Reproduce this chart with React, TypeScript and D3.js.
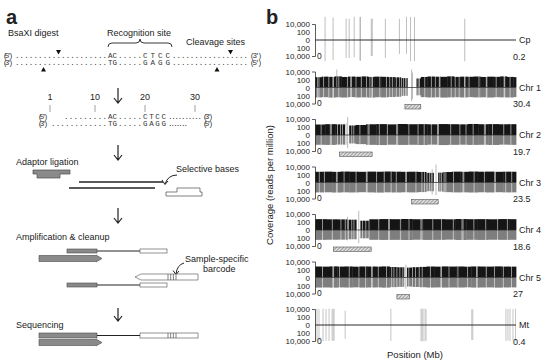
import React, { useEffect, useRef } from 'react';
import * as d3 from 'd3';

const FONT = 'Liberation Sans, Arial, Helvetica, sans-serif';
const MONO = 'Liberation Mono, Courier New, monospace';

// ---- panel b data ----
const trackNames = ['Cp', 'Chr 1', 'Chr 2', 'Chr 3', 'Chr 4', 'Chr 5', 'Mt'];
const trackLengths = [0.2, 30.4, 19.7, 23.5, 18.6, 27, 0.4];
const lengthLabels = ['0.2', '30.4', '19.7', '23.5', '18.6', '27', '0.4'];
const axisTicks = [10000, 100, 0, -100, -10000];
const binSize = 1; // Mb

const cpPeakPos = [0.010, 0.018, 0.031, 0.034, 0.039, 0.0448, 0.0452, 0.056, 0.057, 0.070, 0.084, 0.091, 0.095, 0.099, 0.149];
const cpPeakFwd = [600000, 400000, 200000, 200000, 600000, 600000, 600000, 200000, 200000, 200000, 200000, 600000, 600000, 600000, 200000];
const cpPeakRev = [200000, 100000, 30000, 30000, 20000, 150000, 150000, 10000, 10000, 30000, 3000, 3000, 200000, 200000, 200000];

const mtPeakPos = [0.004, 0.008, 0.016, 0.022, 0.028, 0.034, 0.036, 0.038, 0.060, 0.151, 0.211, 0.213, 0.215, 0.219, 0.221, 0.312, 0.314, 0.380, 0.384, 0.388, 0.394, 0.399];
const mtPeakFwd = [12000, 9000, 12000, 10000, 12000, 9000, 12000, 10000, 4000, 12000, 12000, 10000, 12000, 12000, 9000, 8000, 9000, 12000, 10000, 12000, 9000, 12000];
const mtPeakRev = [10000, 8000, 10000, 9000, 10000, 8000, 10000, 9000, 3000, 10000, 12000, 10000, 12000, 12000, 8000, 5000, 6000, 9000, 8000, 10000, 8000, 9000];

const chr1Fwd = [380, 520, 460, 610, 430, 540, 480, 590, 450, 520, 470, 410, 350, 220, 60, 180, 430, 560, 500, 470, 620, 450, 520, 480, 560, 430, 510, 470, 590, 440, 390];
const chr1Rev = [300, 260, 340, 280, 320, 250, 310, 290, 330, 270, 300, 240, 210, 120, 40, 90, 260, 310, 280, 330, 290, 270, 310, 260, 300, 280, 320, 270, 290, 310, 250];
const chr1Gaps = [0.4, 0.6, 1.3, 2.1, 2.7, 2.8, 3.6, 4.9, 5.4, 5.5, 6.2, 7.0, 7.8, 8.3, 8.6, 8.7, 9.8, 10.8, 11.3, 11.7, 12.3, 12.8, 13.1, 13.4, 13.7, 13.9, 15.6, 15.8, 16.6, 17.6, 18.2, 18.8, 18.9, 20.6, 21.2, 21.8, 22.6, 22.7, 23.3, 24.8, 25.9, 26.0, 27.4, 28.6, 28.7, 29.5];
const chr1CenGap = [14.05, 15.35];
const chr1Cen = [13.6, 16.0];
const chr1SpikePos = [3.3, 14.6, 14.75];
const chr1SpikeFwd = [30000, 30000, 5000];
const chr1SpikeRev = [0, 3000, 800];

const chr2Fwd = [420, 510, 460, 240, 320, 480, 530, 450, 560, 490, 520, 470, 540, 500, 460, 570, 490, 530, 480, 510];
const chr2Rev = [280, 300, 250, 130, 190, 290, 320, 270, 300, 280, 310, 260, 330, 290, 270, 300, 280, 310, 260, 290];
const chr2Gaps = [0.6, 1.5, 1.6, 2.2, 2.5, 2.7, 3.6, 3.8, 4.4, 5.2, 5.3, 6.3, 7.1, 8.0, 8.1, 9.2, 10.1, 10.7, 11.4, 12.0, 12.1, 13.3, 14.2, 14.8, 15.5, 16.6, 16.7, 17.4, 18.5, 19.2];
const chr2CenGap = [2.95, 3.35];
const chr2Cen = [2.4, 5.6];
const chr2SpikePos = [3.2, 3.05];
const chr2SpikeFwd = [30000, 800];
const chr2SpikeRev = [2000, 300];

const chr3Fwd = [480, 520, 460, 550, 500, 470, 530, 490, 560, 510, 470, 500, 440, 260, 300, 420, 520, 480, 550, 500, 530, 470, 510, 490];
const chr3Rev = [300, 280, 320, 290, 310, 270, 300, 330, 290, 310, 280, 300, 250, 150, 180, 260, 300, 290, 320, 280, 310, 270, 300, 290];
const chr3Gaps = [0.5, 1.1, 2.5, 2.6, 3.4, 4.8, 6.0, 6.1, 7.2, 8.1, 8.9, 9.5, 10.6, 10.7, 11.8, 12.5, 12.8, 13.1, 13.4, 13.6, 14.6, 14.8, 15.1, 15.3, 16.2, 17.3, 17.4, 18.6, 19.8, 21.0, 21.1, 22.3, 23.0];
const chr3CenGap = [13.9, 14.4];
const chr3Cen = [11.3, 14.4];
const chr3SpikePos = [14.15, 13.7];
const chr3SpikeFwd = [30000, 2000];
const chr3SpikeRev = [1500, 1000];

const chr4Fwd = [520, 470, 450, 380, 210, 480, 540, 500, 560, 490, 530, 510, 470, 550, 500, 520, 480, 540, 500];
const chr4Rev = [290, 270, 260, 210, 120, 280, 300, 290, 310, 270, 300, 290, 260, 310, 280, 300, 270, 290, 280];
const chr4Gaps = [0.7, 1.6, 2.4, 2.8, 3.1, 3.4, 3.6, 4.4, 4.7, 5.0, 5.9, 6.8, 6.9, 7.9, 8.7, 9.8, 9.9, 10.9, 11.7, 12.8, 13.6, 13.7, 14.7, 15.8, 16.9, 17.8];
const chr4CenGap = [3.85, 4.2];
const chr4Cen = [1.7, 5.2];
const chr4SpikePos = [4.05, 3.0];
const chr4SpikeFwd = [60000, 2000];
const chr4SpikeRev = [2000, 400];

const chr5Fwd = [560, 520, 600, 540, 580, 510, 570, 550, 530, 590, 420, 360, 300, 380, 450, 560, 520, 590, 540, 570, 510, 580, 550, 530, 600, 540, 520];
const chr5Rev = [330, 310, 340, 300, 320, 290, 330, 310, 300, 340, 260, 220, 180, 230, 270, 320, 300, 330, 310, 320, 290, 330, 310, 300, 340, 310, 300];
const chr5Gaps = [1.0, 2.4, 2.5, 3.3, 4.6, 5.9, 6.8, 7.6, 7.7, 8.5, 9.6, 10.3, 10.6, 11.0, 11.4, 11.8, 12.6, 13.1, 13.5, 14.0, 14.4, 15.5, 16.9, 17.0, 18.0, 19.2, 20.5, 21.7, 21.8, 23.0, 24.1, 25.3, 26.4];
const chr5CenGap = [12.0, 12.35];
const chr5Cen = [11.0, 12.7];
const chr5SpikePos = [12.2];
const chr5SpikeFwd = [1500];
const chr5SpikeRev = [600];

// ---- panel a text ----
const dots = (n: number) => '.'.repeat(n);
type Seg = [string, number, number];
const seqLine1: Seg[] = [["(5')", 3, 13], [dots(20), 15, 107], ['AC', 108, 117], [dots(5), 118, 142], ['CTCC', 143, 170], [dots(17), 172, 248], ["(3')", 250, 262]];
const seqLine2: Seg[] = [["(3')", 3, 13], [dots(20), 15, 107], ['TG', 108, 117], [dots(5), 118, 142], ['GAGG', 143, 170], [dots(17), 172, 248], ["(5')", 250, 262]];
const seqLine3: Seg[] = [["(5')", 38, 48], [dots(9), 64, 107], ['AC', 108, 117], [dots(5), 118, 142], ['CTCC', 143, 166], [dots(10), 168, 202], ["(3')", 203, 213]];
const seqLine4: Seg[] = [["(3')", 38, 48], [dots(12), 51, 107], ['TG', 108, 117], [dots(5), 118, 142], ['GAGG', 143, 166], [dots(7), 168, 188], ["(5')", 203, 213]];
const seqTicks = [1, 10, 20, 30];
const barcodeTicks = [168, 170.7, 173.4, 176];

const chromosomes = [
  { name: 'Chr 1', fwd: chr1Fwd, rev: chr1Rev, gaps: chr1Gaps, cenGap: chr1CenGap, cen: chr1Cen, sp: chr1SpikePos, sf: chr1SpikeFwd, sr: chr1SpikeRev },
  { name: 'Chr 2', fwd: chr2Fwd, rev: chr2Rev, gaps: chr2Gaps, cenGap: chr2CenGap, cen: chr2Cen, sp: chr2SpikePos, sf: chr2SpikeFwd, sr: chr2SpikeRev },
  { name: 'Chr 3', fwd: chr3Fwd, rev: chr3Rev, gaps: chr3Gaps, cenGap: chr3CenGap, cen: chr3Cen, sp: chr3SpikePos, sf: chr3SpikeFwd, sr: chr3SpikeRev },
  { name: 'Chr 4', fwd: chr4Fwd, rev: chr4Rev, gaps: chr4Gaps, cenGap: chr4CenGap, cen: chr4Cen, sp: chr4SpikePos, sf: chr4SpikeFwd, sr: chr4SpikeRev },
  { name: 'Chr 5', fwd: chr5Fwd, rev: chr5Rev, gaps: chr5Gaps, cenGap: chr5CenGap, cen: chr5Cen, sp: chr5SpikePos, sf: chr5SpikeFwd, sr: chr5SpikeRev },
];
const organelles = [
  { name: 'Cp', pos: cpPeakPos, fwd: cpPeakFwd, rev: cpPeakRev, color: '#ababab' },
  { name: 'Mt', pos: mtPeakPos, fwd: mtPeakFwd, rev: mtPeakRev, color: '#b4b4b4' },
];

const Seq = ({ y, segs }: { y: number; segs: Seg[] }) => (
  <g fontFamily={MONO} fontSize={7.5} fill="#333">
    {segs.map(([t, x0, x1], i) => (
      <text key={i} x={x0} y={y} textLength={x1 - x0} lengthAdjust="spacing">{t}</text>
    ))}
  </g>
);

const DownArrow = ({ x, y1, y2 }: { x: number; y1: number; y2: number }) => (
  <path d={`M${x},${y1}V${y2}M${x - 4},${y2 - 5}L${x},${y2}L${x + 4},${y2 - 5}`} fill="none" stroke="#222" strokeWidth={1.2} />
);

const App = () => {
  const ref = useRef<SVGSVGElement>(null);

  useEffect(() => {
    const root = d3.select(ref.current).select('g.panel-b');
    root.selectAll('*').remove();

    const center = d3.scalePoint<string>().domain(trackNames).range([40, 325]);
    const half = 16;

    trackNames.forEach((name, i) => {
      const c = center(name) as number;
      const len = trackLengths[i];
      const x = d3.scaleLinear().domain([0, len]).range([315, 516]);
      const y = d3.scaleSymlog().domain([-10000, 10000]).range([c + half, c - half]);
      const g = root.append('g');

      const chr = chromosomes.find(d => d.name === name);
      if (chr) {
        const bins = chr.fwd.map((v, j) => ({
          x0: j * binSize,
          x1: Math.min((j + 1) * binSize, len),
          fwd: v,
          rev: chr.rev[j],
        }));
        g.selectAll('rect.fwd').data(bins).enter().append('rect')
          .attr('x', d => x(d.x0))
          .attr('width', d => x(d.x1) - x(d.x0) + 0.4)
          .attr('y', d => y(d.fwd))
          .attr('height', d => y(0) - y(d.fwd))
          .attr('fill', '#151515');
        g.selectAll('rect.rev').data(bins).enter().append('rect')
          .attr('x', d => x(d.x0))
          .attr('width', d => x(d.x1) - x(d.x0) + 0.4)
          .attr('y', y(0))
          .attr('height', d => y(-d.rev) - y(0))
          .attr('fill', '#7e7e7e');

        // low-coverage positions
        g.selectAll('rect.gap').data(chr.gaps).enter().append('rect')
          .attr('x', d => x(d) - 0.45)
          .attr('width', 0.9)
          .attr('y', y(10000))
          .attr('height', y(-10000) - y(10000))
          .attr('fill', '#fff')
          .attr('opacity', 0.6);
        // centromere core without reads
        g.append('rect')
          .attr('x', x(chr.cenGap[0]))
          .attr('width', x(chr.cenGap[1]) - x(chr.cenGap[0]))
          .attr('y', y(10000))
          .attr('height', y(-10000) - y(10000))
          .attr('fill', '#fff');
        // isolated peaks
        g.selectAll('line.spike').data(chr.sp).enter().append('line')
          .attr('x1', d => x(d)).attr('x2', d => x(d))
          .attr('y1', (d, j) => y(chr.sf[j]))
          .attr('y2', (d, j) => y(-chr.sr[j]))
          .attr('stroke', '#a8a8a8')
          .attr('stroke-width', 0.8);
        // centromere bar
        g.append('rect')
          .attr('x', x(chr.cen[0]))
          .attr('width', x(chr.cen[1]) - x(chr.cen[0]))
          .attr('y', c + 17)
          .attr('height', 4.5)
          .attr('fill', 'url(#hatch)')
          .attr('stroke', '#555')
          .attr('stroke-width', 0.6);
      }

      const org = organelles.find(d => d.name === name);
      if (org) {
        g.selectAll('line.peak').data(org.pos).enter().append('line')
          .attr('x1', d => x(d)).attr('x2', d => x(d))
          .attr('y1', (d, j) => y(org.fwd[j]))
          .attr('y2', (d, j) => y(-org.rev[j]))
          .attr('stroke', org.color)
          .attr('stroke-width', 0.9)
          .attr('opacity', 0.85);
      }

      // zero line
      g.append('line')
        .attr('x1', x(0)).attr('x2', x(len))
        .attr('y1', y(0)).attr('y2', y(0))
        .attr('stroke', '#2a2a2a')
        .attr('stroke-width', org ? 1 : 0.7);

      // y axis
      const ax = g.append('g')
        .attr('transform', `translate(${x(0)},0)`)
        .call(
          d3.axisLeft(y)
            .tickValues(axisTicks)
            .tickFormat(v => d3.format(',')(Math.abs(v as number)))
            .tickSizeInner(0)
            .tickSizeOuter(3)
            .tickPadding(5)
        );
      ax.attr('font-family', FONT).attr('font-size', 8);
      ax.selectAll('text').attr('fill', '#222');
      ax.select('.domain').attr('stroke', '#333').attr('stroke-width', 0.8);

      g.append('text')
        .attr('x', x(0) + 2).attr('y', y(-10000)).attr('dy', '0.35em')
        .attr('font-family', FONT).attr('font-size', 8.5).attr('fill', '#222')
        .text('0');
      g.append('text')
        .attr('x', 513).attr('y', y(-10000)).attr('dy', '0.4em')
        .attr('font-family', FONT).attr('font-size', 9).attr('fill', '#222')
        .text(lengthLabels[i]);
      g.append('text')
        .attr('x', 519).attr('y', y(0)).attr('dy', '0.35em')
        .attr('font-family', FONT).attr('font-size', 9).attr('fill', '#222')
        .text(name);
    });

    root.append('text')
      .attr('transform', 'translate(273,185) rotate(-90)')
      .attr('text-anchor', 'middle')
      .attr('font-family', FONT).attr('font-size', 9.5).attr('fill', '#222')
      .text('Coverage (reads per million)');
    root.append('text')
      .attr('x', 415).attr('y', 358)
      .attr('text-anchor', 'middle')
      .attr('font-family', FONT).attr('font-size', 9.5).attr('fill', '#222')
      .text('Position (Mb)');
  }, []);

  const seqX = d3.scaleLinear().domain([1, 30]).range([50, 195]);
  const grey = '#8a8a8a';
  const edge = '#4a4a4a';

  return (
    <div style={{ position: 'absolute', left: 0, top: 0 }}>
      <svg ref={ref} width={554} height={363} style={{ display: 'block', background: '#fff' }}>
        <defs>
          <pattern id="hatch" width="2.5" height="2.5" patternUnits="userSpaceOnUse" patternTransform="rotate(45)">
            <rect width="2.5" height="2.5" fill="#dcdcdc" />
            <line x1="0" y1="0" x2="0" y2="2.5" stroke="#6a6a6a" strokeWidth="1" />
          </pattern>
        </defs>

        {/* panel a */}
        <g fontFamily={FONT} fill="#222">
          <text x={6} y={24} fontSize={20} fontWeight="bold">a</text>
          <text x={266} y={24} fontSize={20} fontWeight="bold">b</text>
          <text x={8} y={36} fontSize={9}>BsaXI digest</text>
          <text x={107} y={36} fontSize={9}>Recognition site</text>
          <text x={186} y={45} fontSize={9}>Cleavage sites</text>
          <text x={16} y={165} fontSize={9}>Adaptor ligation</text>
          <text x={176} y={172} fontSize={9}>Selective bases</text>
          <text x={16} y={240} fontSize={9}>Amplification &amp; cleanup</text>
          <text x={185} y={262} fontSize={9}>Sample-specific</text>
          <text x={203} y={272} fontSize={9}>barcode</text>
          <text x={16} y={328} fontSize={9}>Sequencing</text>
        </g>

        <path d="M108,47Q108,43 112,43L136,43Q140,43 140,39Q140,43 144,43L168,43Q172,43 172,47" fill="none" stroke="#222" strokeWidth={0.9} />

        <Seq y={57.5} segs={seqLine1} />
        <Seq y={64.5} segs={seqLine2} />
        <path d="M56,50h5l-2.5,4.5z M228,50h5l-2.5,4.5z" fill="#111" />
        <path d="M41,71.5h5l-2.5,-4.5z M214.5,71.5h5l-2.5,-4.5z" fill="#111" />

        <DownArrow x={118} y1={88} y2={103} />
        <g fontFamily={FONT} fontSize={9} fill="#222" textAnchor="middle">
          {seqTicks.map(t => <text key={t} x={seqX(t)} y={100}>{t}</text>)}
        </g>
        {seqTicks.map(t => <line key={t} x1={seqX(t)} x2={seqX(t)} y1={105} y2={112} stroke="#888" strokeWidth={0.8} />)}
        <Seq y={118.5} segs={seqLine3} />
        <Seq y={125.5} segs={seqLine4} />

        <DownArrow x={118} y1={145} y2={160} />
        <path d="M33,170H70V174H60V178H37V174H33Z" fill={grey} stroke={edge} strokeWidth={0.7} />
        <path d="M177,175Q168,175 165,184M162,180L165,184.5L168,181" fill="none" stroke="#222" strokeWidth={1} />
        <line x1={79} x2={163} y1={182} y2={182} stroke="#222" strokeWidth={1.3} />
        <line x1={69} x2={155} y1={188} y2={188} stroke="#222" strokeWidth={1.3} />
        <path d="M166,196V192H177V188H200V192H202V196Z" fill="#fff" stroke={edge} strokeWidth={0.7} />

        <DownArrow x={118} y1={208} y2={223} />
        <rect x={67} y={249} width={30} height={4} fill={grey} stroke={edge} strokeWidth={0.6} />
        <line x1={97} x2={140} y1={251} y2={251} stroke="#222" strokeWidth={1} />
        <rect x={140} y={249} width={27} height={4} fill="#fff" stroke={edge} strokeWidth={0.6} />
        <path d="M39,255.5H96V255L102,258.5L96,262V261.5H39Z" fill={grey} stroke={edge} strokeWidth={0.6} />
        <path d="M184,263Q177,265 176,274M173,270.5L176,274.5L179,271" fill="none" stroke="#222" strokeWidth={1} />
        <path d="M198,274V280H141L135,277L141,274Z" fill="#fff" stroke={edge} strokeWidth={0.6} />
        {barcodeTicks.map(b => <line key={b} x1={b} x2={b} y1={274} y2={280} stroke="#333" strokeWidth={0.6} />)}
        <rect x={67} y={283} width={30} height={4} fill={grey} stroke={edge} strokeWidth={0.6} />
        <line x1={97} x2={140} y1={285} y2={285} stroke="#222" strokeWidth={1} />
        <rect x={140} y={283} width={27} height={4} fill="#fff" stroke={edge} strokeWidth={0.6} />

        <DownArrow x={118} y1={308} y2={321} />
        <rect x={39} y={333} width={58} height={5} fill={grey} stroke={edge} strokeWidth={0.6} />
        <line x1={97} x2={140} y1={335.5} y2={335.5} stroke="#222" strokeWidth={1} />
        <rect x={140} y={333} width={58} height={5} fill="#fff" stroke={edge} strokeWidth={0.6} />
        {barcodeTicks.map(b => <line key={b} x1={b} x2={b} y1={333} y2={338} stroke="#333" strokeWidth={0.6} />)}
        <path d="M39,339.5H96V339L102,342.5L96,346V345.5H39Z" fill={grey} stroke={edge} strokeWidth={0.6} />

        <g className="panel-b" />
      </svg>
    </div>
  );
};

export default App;
